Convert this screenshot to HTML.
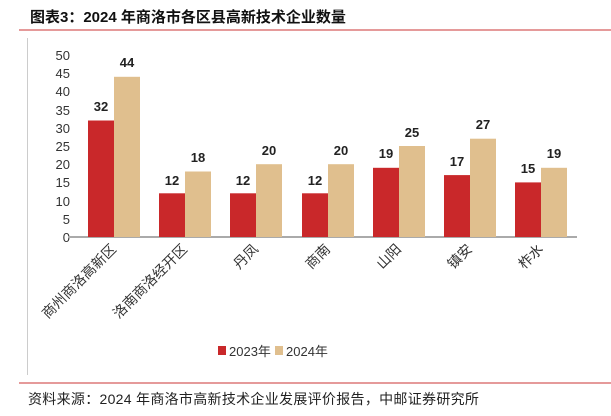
<!DOCTYPE html>
<html><head><meta charset="utf-8"><style>
body{margin:0;width:611px;height:411px;background:#fff;overflow:hidden;font-family:"Liberation Sans","Noto Sans CJK SC",sans-serif;}
</style></head><body>
<svg width="611" height="411" xmlns="http://www.w3.org/2000/svg" font-family="Liberation Sans, Noto Sans CJK SC, sans-serif">
<text x="30" y="22" font-size="15" font-weight="bold" fill="#111">图表3：2024 年商洛市各区县高新技术企业数量</text>
<rect x="19" y="29" width="592" height="2" fill="#e59a9a"/>
<rect x="27" y="38" width="1" height="337" fill="#ccc"/>
<rect x="19" y="382" width="592" height="2" fill="#e59a9a"/>
<text x="28" y="404" font-size="14" fill="#222" letter-spacing="0.3">资料来源：2024 年商洛市高新技术企业发展评价报告，中邮证券研究所</text>
<g font-size="13" fill="#333" text-anchor="end">
<text x="70" y="60">50</text><text x="70" y="78">45</text><text x="70" y="96">40</text><text x="70" y="115">35</text><text x="70" y="133">30</text><text x="70" y="151">25</text><text x="70" y="169">20</text><text x="70" y="187">15</text><text x="70" y="206">10</text><text x="70" y="224">5</text><text x="70" y="242">0</text>
</g>
<rect x="68" y="236" width="509" height="2" fill="#aaa"/>
<g font-size="13" font-weight="bold" fill="#222" text-anchor="middle">
<text x="101" y="111">32</text><text x="127" y="67">44</text>
<text x="172" y="185">12</text><text x="198" y="162">18</text>
<text x="243" y="185">12</text><text x="269" y="155">20</text>
<text x="315" y="185">12</text><text x="341" y="155">20</text>
<text x="386" y="158">19</text><text x="412" y="137">25</text>
<text x="457" y="166">17</text><text x="483" y="129">27</text>
<text x="528" y="173">15</text><text x="554" y="158">19</text>
</g>
<g fill="#c9282a">
<rect x="88" y="120.5" width="26" height="116.5"/>
<rect x="159" y="193.3" width="26" height="43.7"/>
<rect x="230" y="193.3" width="26" height="43.7"/>
<rect x="302" y="193.3" width="26" height="43.7"/>
<rect x="373" y="167.8" width="26" height="69.2"/>
<rect x="444" y="175.1" width="26" height="61.9"/>
<rect x="515" y="182.4" width="26" height="54.6"/>
</g>
<g fill="#e0bf8e">
<rect x="114" y="76.8" width="26" height="160.2"/>
<rect x="185" y="171.5" width="26" height="65.5"/>
<rect x="256" y="164.2" width="26" height="72.8"/>
<rect x="328" y="164.2" width="26" height="72.8"/>
<rect x="399" y="146" width="26" height="91"/>
<rect x="470" y="138.7" width="26" height="98.3"/>
<rect x="541" y="167.8" width="26" height="69.2"/>
</g>
<g font-size="14" fill="#333" text-anchor="end">
<text transform="translate(117,250) rotate(-45)">商州商洛高新区</text>
<text transform="translate(188,250) rotate(-45)">洛南商洛经开区</text>
<text transform="translate(259,250) rotate(-45)">丹凤</text>
<text transform="translate(331,250) rotate(-45)">商南</text>
<text transform="translate(402,250) rotate(-45)">山阳</text>
<text transform="translate(473,250) rotate(-45)">镇安</text>
<text transform="translate(544,250) rotate(-45)">柞水</text>
</g>
<rect x="218" y="346" width="8" height="9" fill="#c9282a"/>
<text x="229" y="356" font-size="13" fill="#333">2023年</text>
<rect x="275" y="346" width="8" height="9" fill="#e0bf8e"/>
<text x="286" y="356" font-size="13" fill="#333">2024年</text>
</svg>
</body></html>
